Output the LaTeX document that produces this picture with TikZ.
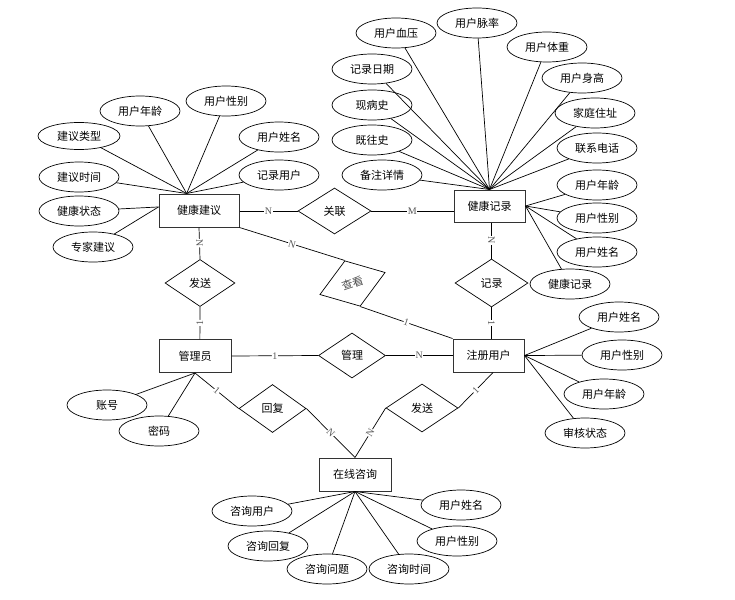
\documentclass[tikz,border=0pt]{standalone}
\usepackage{fontspec}
\setmainfont{Noto Sans CJK SC}
\newfontfamily\lblfont{Liberation Serif}
\usetikzlibrary{shapes.geometric}
\begin{document}
\begin{tikzpicture}[x=1pt,y=-1pt,
 ent/.style={draw=black!80, line width=1pt, minimum width=72pt, minimum height=33pt, inner sep=0pt, font=\fontsize{11}{13}\selectfont},
 attr/.style={draw, ellipse, line width=0.7pt, minimum width=80pt, minimum height=30pt, inner sep=0pt, font=\fontsize{11}{13}\selectfont},
 rel/.style={draw, diamond, line width=0.7pt, minimum width=70pt, minimum height=47pt, inner sep=0pt, font=\fontsize{11}{13}\selectfont},
 conn/.style={line width=0.7pt},
 card/.style={midway, sloped, fill=white, inner sep=0.5pt, text=black!65, font=\lblfont\fontsize{10}{10}\selectfont}
]
\useasboundingbox (0,0) rectangle (735,599);

% entities
\node[ent, minimum width=80pt] (jkjy) at (199,210.5) {健康建议};
\node[ent, minimum width=71pt, minimum height=32pt] (jkjl) at (489.5,206) {健康记录};
\node[ent] (gly) at (195,356) {管理员};
\node[ent, minimum width=71pt] (zcyh) at (488.5,355.5) {注册用户};
\node[ent] (zxzx) at (355,474.5) {在线咨询};

% relationships
\node[rel] (fs1) at (200,283) {发送};
\node[rel, minimum width=73pt, minimum height=46pt] (gl) at (334.5,211) {关联};
\node[rel, minimum width=73pt, minimum height=48pt] (jl) at (491.5,283) {记录};
\node[rel, minimum width=67pt, minimum height=45pt] (gli) at (352,355.5) {管理};
\node[rel, minimum width=67pt, minimum height=48pt] (hf) at (272.5,408.5) {回复};
\node[rel, minimum width=72pt, minimum height=48pt] (fs2) at (422,408) {发送};
\node[rel, minimum width=69pt, minimum height=48pt, rotate=18.7, text=black!70] (ck) at (352.5,283.5) {查看};

% relationship connectors
\draw[conn] (jkjy.south) -- node[card]{N} (fs1.north);
\draw[conn] (fs1.south) -- node[card]{1} (gly.74);
\draw[conn] (jkjy.east |- gl.west) -- node[card]{N} (gl.west);
\draw[conn] (gl.east) -- node[card]{M} (gl.east -| jkjl.west);
\draw[conn] (jl.north |- jkjl.south) -- node[card]{N} (jl.north);
\draw[conn] (jl.south) -- node[card]{1} (jl.south |- zcyh.north);
\draw[conn] (gly.east) -- node[card]{1} (gli.west);
\draw[conn] (gli.east) -- node[card]{N} (zcyh.west);
\draw[conn] (jkjy.south east) -- node[card]{N} (ck.north);
\draw[conn] (ck.south) -- node[card]{1} (zcyh.north west);
\draw[conn] (gly.south) -- node[card]{1} (hf.west);
\draw[conn] (hf.east) -- node[card]{N} (zxzx.north);
\draw[conn] (zcyh.-75) -- node[card]{1} (fs2.east);
\draw[conn] (fs2.west) -- node[card]{N} (zxzx.north);

% attributes of 健康建议
\node[attr] (a1) at (140,111) {用户年龄};
\node[attr] (a2) at (226,101) {用户性别};
\node[attr, minimum width=82pt, minimum height=27pt] (a3) at (79,136) {建议类型};
\node[attr] (a4) at (279,137) {用户姓名};
\node[attr] (a5) at (79,177) {建议时间};
\node[attr] (a6) at (279,175) {记录用户};
\node[attr] (a7) at (79,211) {健康状态};
\node[attr] (a8) at (93,247) {专家建议};
\foreach \a in {a1,a2,a3,a4,a5,a6} \draw[conn] (\a) -- (jkjy.126);
\foreach \a in {a7,a8} \draw[conn] (\a) -- (jkjy.175);

% attributes of 健康记录
\node[attr] (b1) at (396,33) {用户血压};
\node[attr] (b2) at (477,23) {用户脉率};
\node[attr] (b3) at (547,47) {用户体重};
\node[attr] (b4) at (582,78) {用户身高};
\node[attr] (b5) at (595,113) {家庭住址};
\node[attr] (b6) at (597,148) {联系电话};
\node[attr] (b7) at (372,69) {记录日期};
\node[attr] (b8) at (372,105) {现病史};
\node[attr] (b9) at (372,140) {既往史};
\node[attr] (b10) at (382,175) {备注详情};
\foreach \a in {b1,b2,b3,b4,b5,b6,b7,b8,b9,b10} \draw[conn] (\a) -- (jkjl.north);
\node[attr] (c1) at (597,185) {用户年龄};
\node[attr] (c2) at (597,218) {用户性别};
\node[attr] (c3) at (597,252) {用户姓名};
\node[attr] (c4) at (570,284) {健康记录};
\foreach \a in {c1,c2,c3,c4} \draw[conn] (\a) -- (jkjl.east);

% attributes of 注册用户
\node[attr] (d1) at (619,317) {用户姓名};
\node[attr] (d2) at (622,355) {用户性别};
\node[attr] (d3) at (604,394) {用户年龄};
\node[attr] (d4) at (585,433) {审核状态};
\foreach \a in {d1,d2,d3,d4} \draw[conn] (\a) -- (zcyh.east);

% attributes of 管理员
\node[attr] (e1) at (107,405) {账号};
\node[attr] (e2) at (159,431) {密码};
\foreach \a in {e1,e2} \draw[conn] (\a) -- (gly.south);

% attributes of 在线咨询
\node[attr] (f1) at (252,511) {咨询用户};
\node[attr] (f2) at (268,546) {咨询回复};
\node[attr] (f3) at (327,569) {咨询问题};
\node[attr] (f4) at (409,569) {咨询时间};
\node[attr] (f5) at (457,541) {用户性别};
\node[attr] (f6) at (461,505) {用户姓名};
\foreach \a in {f1,f2,f3,f4,f5,f6} \draw[conn] (\a) -- (zxzx.south);
\end{tikzpicture}
\end{document}
